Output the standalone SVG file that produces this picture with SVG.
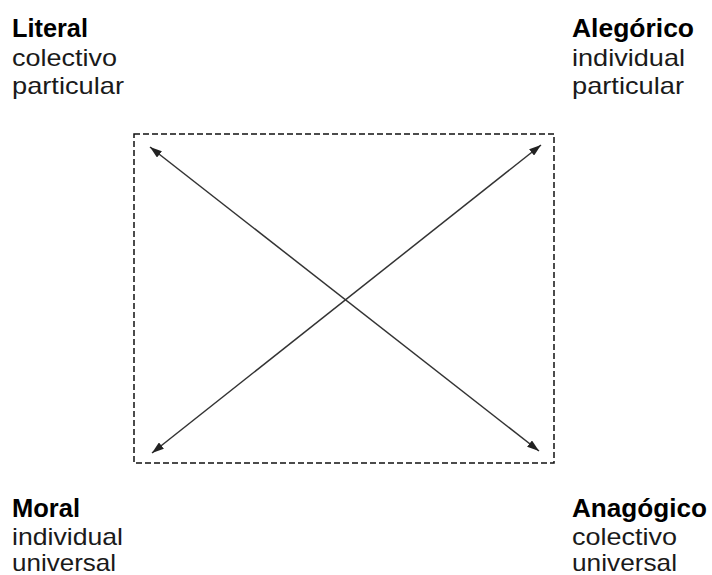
<svg xmlns="http://www.w3.org/2000/svg" width="712" height="575" viewBox="0 0 712 575">
<style>
.t{font-family:"Liberation Sans",Arial,sans-serif;font-size:24px;fill:#1a1a1a}
.b{font-weight:bold;font-size:25px;fill:#000}
.c{stroke:#333;stroke-width:1.5;fill:none}
</style>
<defs>
<marker id="ah" viewBox="0 0 12 8" refX="12" refY="4" markerWidth="12" markerHeight="8" markerUnits="userSpaceOnUse" orient="auto-start-reverse">
<path d="M0,0 L12,4 L0,8 z" fill="#222"/>
</marker>
</defs>
<rect width="712" height="575" fill="#fff"/>
<g id="frame">
<rect x="134" y="134" width="420" height="329" fill="none" stroke="#111" stroke-width="1.5" stroke-dasharray="6 3"/>
</g>
<g id="connectors">
<line class="c" x1="150" y1="147" x2="539" y2="451" marker-start="url(#ah)" marker-end="url(#ah)"/>
<line class="c" x1="541" y1="145" x2="152" y2="453" marker-start="url(#ah)" marker-end="url(#ah)"/>
</g>
<g id="literal">
<text class="t b" x="12" y="37" textLength="76" lengthAdjust="spacingAndGlyphs">Literal</text>
<text class="t" x="12" y="66" textLength="105" lengthAdjust="spacingAndGlyphs">colectivo</text>
<text class="t" x="12" y="94" textLength="112" lengthAdjust="spacingAndGlyphs">particular</text>
</g>
<g id="alegorico">
<text class="t b" x="572" y="37" textLength="122" lengthAdjust="spacingAndGlyphs">Alegórico</text>
<text class="t" x="572" y="66" textLength="113" lengthAdjust="spacingAndGlyphs">individual</text>
<text class="t" x="572" y="94" textLength="112" lengthAdjust="spacingAndGlyphs">particular</text>
</g>
<g id="moral">
<text class="t b" x="12" y="517" textLength="68" lengthAdjust="spacingAndGlyphs">Moral</text>
<text class="t" x="12" y="545" textLength="111" lengthAdjust="spacingAndGlyphs">individual</text>
<text class="t" x="12" y="571" textLength="104" lengthAdjust="spacingAndGlyphs">universal</text>
</g>
<g id="anagogico">
<text class="t b" x="572" y="517" textLength="135" lengthAdjust="spacingAndGlyphs">Anagógico</text>
<text class="t" x="572" y="545" textLength="105" lengthAdjust="spacingAndGlyphs">colectivo</text>
<text class="t" x="572" y="571" textLength="105" lengthAdjust="spacingAndGlyphs">universal</text>
</g>
</svg>
